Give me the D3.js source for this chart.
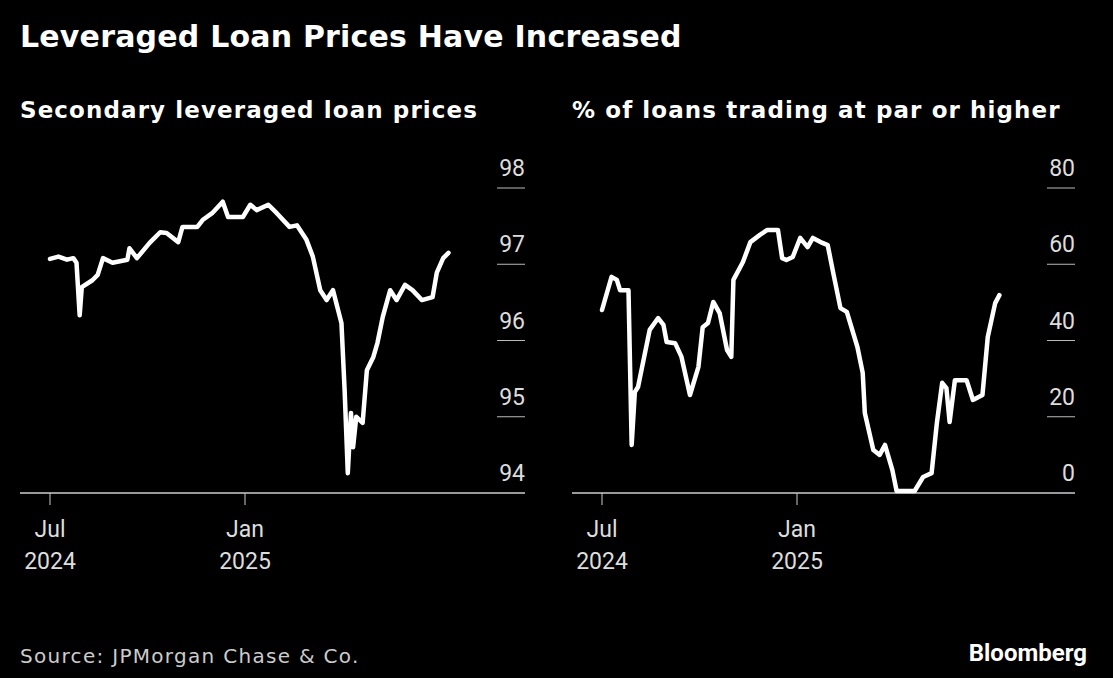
<!DOCTYPE html>
<html><head><meta charset="utf-8">
<script src="https://cdn.jsdelivr.net/npm/d3@7"></script>
<style>
body{margin:0;background:#000;}
text{font-family:Roboto,"Liberation Sans",sans-serif;}
.wide{font-family:"DejaVu Sans",sans-serif;}
</style></head>
<body>
<script>
// data: days since 2024-07-01 and values
var priceDays = [0,8,16,22,25,28,30,40,45,50,59,73,75,82,94,104,110,121,125,139,144,153,163,168,182,189,195,206,214,226,233,242,248,255,261,267,275,278,281,284,286,289,295,299,305,309,314,321,327,335,342,351,361,365,371,376];
var priceVals = [97.07,97.10,97.06,97.08,97.02,96.33,96.70,96.79,96.86,97.08,97.02,97.06,97.21,97.08,97.28,97.42,97.41,97.29,97.49,97.49,97.58,97.67,97.82,97.62,97.62,97.78,97.71,97.78,97.67,97.49,97.51,97.32,97.10,96.66,96.53,96.66,96.23,95.35,94.26,95.05,94.60,95.00,94.92,95.61,95.78,95.97,96.31,96.66,96.53,96.73,96.66,96.53,96.57,96.89,97.08,97.15];
var parDays = [0,9,14,17,25,28,31,34,45,53,58,61,69,75,83,91,95,100,105,111,118,122,124,133,140,149,156,166,170,174,180,187,194,199,208,213,218,225,231,241,246,248,256,262,267,274,278,295,303,311,316,321,325,328,333,344,350,359,364,371,375];
var parVals = [48.0,56.7,55.9,53.2,53.2,12.6,26.5,27.8,42.8,45.9,44.1,39.6,39.3,35.7,25.7,33.1,43.5,44.6,50.1,47.2,37.5,35.7,55.9,60.6,65.8,67.7,69.0,69.0,61.6,61.1,61.9,66.9,64.5,66.9,65.6,65.0,58.0,48.5,47.5,38.3,31.5,21.0,11.3,10.0,12.6,6.0,0,0,4.2,5.2,18.4,28.9,27.5,18.6,29.6,29.6,24.4,25.7,40.9,49.8,51.9];
var priceTicks = [94,95,96,97,98];
var parTicks = [0,20,40,60,80];
var xTicks = [{d:new Date(2024,6,1),a:"Jul",b:"2024"},{d:new Date(2025,0,1),a:"Jan",b:"2025"}];

var W = 1113, H = 678;
var svg = d3.select("body").append("svg").attr("width", W).attr("height", H);

svg.append("text").attr("class", "wide").attr("x", 20).attr("y", 47).text("Leveraged Loan Prices Have Increased")
  .attr("fill", "#fff").style("font-size", "30px").style("font-weight", "bold").style("letter-spacing", "0.2px");

var start = new Date(2024,6,1);
function toDate(n){ return d3.timeDay.offset(start, n); }

function panel(x0, x1, title, days, vals, yDom, ticks){
  var g = svg.append("g");
  g.append("text").attr("class", "wide").attr("x", x0).attr("y", 118).text(title)
    .attr("fill", "#fff").style("font-size", "23px").style("font-weight", "bold").style("letter-spacing", "1.1px");
  // Jul at x0+30, Jan at x0+225
  var xScale = d3.scaleTime().domain([start, new Date(2025,0,1)]).range([x0+30, x0+225]);
  var yScale = d3.scaleLinear().domain(yDom).range([493, 188]);
  ticks.forEach(function(t){
    var y = yScale(t);
    if (t !== yDom[0]) g.append("line").attr("x1", x1-28).attr("x2", x1).attr("y1", y).attr("y2", y)
      .attr("stroke", "#bbb").attr("stroke-width", 1);
    g.append("text").attr("x", x1).attr("y", y-12).attr("text-anchor", "end").text(t)
      .attr("fill", "#ddd").style("font-size", "23px");
  });
  g.append("line").attr("x1", x0).attr("x2", x1).attr("y1", 493).attr("y2", 493)
    .attr("stroke", "#ccc").attr("stroke-width", 1.5);
  xTicks.forEach(function(t){
    var x = xScale(t.d);
    g.append("line").attr("x1", x).attr("x2", x).attr("y1", 493).attr("y2", 505).attr("stroke", "#ccc");
    g.append("text").attr("x", x).attr("y", 537).attr("text-anchor", "middle").text(t.a)
      .attr("fill", "#ddd").style("font-size", "23px");
    g.append("text").attr("x", x).attr("y", 569).attr("text-anchor", "middle").text(t.b)
      .attr("fill", "#ddd").style("font-size", "23px");
  });
  var line = d3.line().x(function(d,i){ return xScale(toDate(days[i])); })
    .y(function(d){ return yScale(Math.max(d, yDom[0]) ) - (d <= yDom[0] ? 2 : 0); });
  g.append("path").datum(vals).attr("d", line).attr("fill", "none")
    .attr("stroke", "#fff").attr("stroke-width", 4.5).attr("stroke-linejoin", "round").attr("stroke-linecap", "round");
}

panel(20, 525, "Secondary leveraged loan prices", priceDays, priceVals, [94,98], priceTicks);
panel(572, 1075, "% of loans trading at par or higher", parDays, parVals, [0,80], parTicks);

svg.append("text").attr("class", "wide").attr("x", 20).attr("y", 663).text("Source: JPMorgan Chase & Co.")
  .attr("fill", "#ccc").style("font-size", "20px").style("letter-spacing", "1.3px");
svg.append("text").attr("x", 1087).attr("y", 661).attr("text-anchor", "end").text("Bloomberg")
  .attr("fill", "#fff").style("font-size", "24px").style("font-weight", "bold");
</script>
</body></html>
